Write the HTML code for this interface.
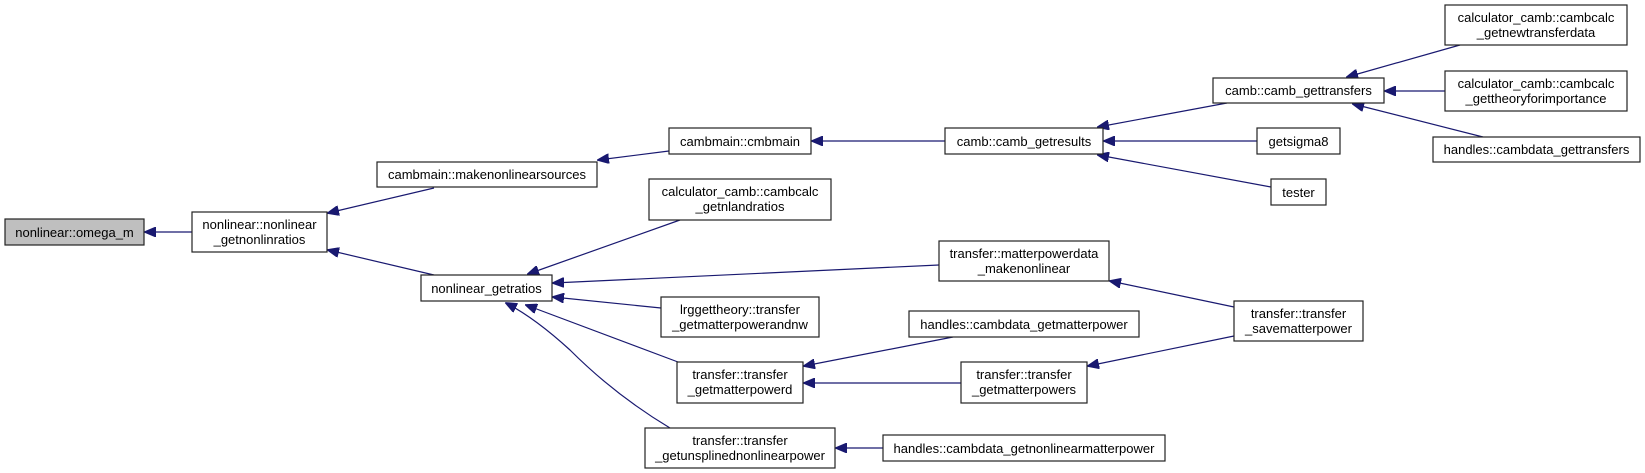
<!DOCTYPE html>
<html><head><meta charset="utf-8"><style>
html,body{margin:0;padding:0;background:#fff;}
svg{display:block;}
text{font-family:"Liberation Sans",Arial,sans-serif;font-size:13px;fill:#000;text-anchor:middle;}
rect{fill:#fff;stroke:#222;stroke-width:1.2;}
.e{stroke:#191970;stroke-width:1.2;fill:none;marker-end:url(#a);}
</style></head><body>
<svg width="1645" height="473" viewBox="0 0 1645 473" xmlns="http://www.w3.org/2000/svg">
<defs><marker id="a" markerUnits="userSpaceOnUse" markerWidth="12" markerHeight="10" refX="11" refY="5" orient="auto"><path d="M0,0 L12,5 L0,10 Z" fill="#191970" stroke="#191970"/></marker></defs>

<path class="e" d="M192,232 L145,232"/>
<path class="e" d="M434,188 L328,213"/>
<path class="e" d="M434,275 L328,250"/>
<path class="e" d="M669,151 L598,160"/>
<path class="e" d="M945,141 L812,141"/>
<path class="e" d="M1227,103 L1098,127"/>
<path class="e" d="M1257,141 L1104,141"/>
<path class="e" d="M1271,187 L1098,155"/>
<path class="e" d="M1460,45 L1347,77"/>
<path class="e" d="M1445,91 L1385,91"/>
<path class="e" d="M1483,137 L1353,104"/>
<path class="e" d="M680,220 L528,274"/>
<path class="e" d="M939,265 L553,283"/>
<path class="e" d="M661,308 L553,297"/>
<path class="e" d="M678,362 L526,305"/>
<path class="e" d="M670,428 Q615,395 570,350 Q535,318 506,303"/>
<path class="e" d="M953,337 L804,366"/>
<path class="e" d="M961,383 L804,383"/>
<path class="e" d="M1234,307 L1110,281"/>
<path class="e" d="M1234,336 L1088,366"/>
<path class="e" d="M883,448 L836,448"/>

<rect x="5" y="219" width="139" height="26" style="fill:#bfbfbf"/><text x="74.5" y="237">nonlinear::omega_m</text>
<rect x="192" y="212" width="135" height="40"/><text x="259.5" y="229">nonlinear::nonlinear</text><text x="259.5" y="244">_getnonlinratios</text>
<rect x="377" y="162" width="220" height="25"/><text x="487" y="179">cambmain::makenonlinearsources</text>
<rect x="421" y="275" width="131" height="26"/><text x="486.5" y="293">nonlinear_getratios</text>
<rect x="669" y="128" width="142" height="26"/><text x="740" y="146">cambmain::cmbmain</text>
<rect x="945" y="128" width="158" height="26"/><text x="1024" y="146">camb::camb_getresults</text>
<rect x="1213" y="78" width="171" height="25"/><text x="1298.5" y="95">camb::camb_gettransfers</text>
<rect x="1445" y="5" width="182" height="40"/><text x="1536" y="22">calculator_camb::cambcalc</text><text x="1536" y="37">_getnewtransferdata</text>
<rect x="1445" y="71" width="182" height="40"/><text x="1536" y="88">calculator_camb::cambcalc</text><text x="1536" y="103">_gettheoryforimportance</text>
<rect x="1433" y="137" width="207" height="25"/><text x="1536.5" y="154">handles::cambdata_gettransfers</text>
<rect x="1257" y="128" width="83" height="26"/><text x="1298.5" y="146">getsigma8</text>
<rect x="1271" y="179" width="55" height="26"/><text x="1298.5" y="197">tester</text>
<rect x="649" y="179" width="182" height="41"/><text x="740" y="196">calculator_camb::cambcalc</text><text x="740" y="211">_getnlandratios</text>
<rect x="939" y="241" width="170" height="40"/><text x="1024" y="258">transfer::matterpowerdata</text><text x="1024" y="273">_makenonlinear</text>
<rect x="661" y="297" width="158" height="40"/><text x="740" y="314">lrggettheory::transfer</text><text x="740" y="329">_getmatterpowerandnw</text>
<rect x="909" y="311" width="230" height="26"/><text x="1024" y="329">handles::cambdata_getmatterpower</text>
<rect x="1234" y="301" width="129" height="40"/><text x="1298.5" y="318">transfer::transfer</text><text x="1298.5" y="333">_savematterpower</text>
<rect x="677" y="362" width="126" height="41"/><text x="740" y="379">transfer::transfer</text><text x="740" y="394">_getmatterpowerd</text>
<rect x="961" y="362" width="126" height="41"/><text x="1024" y="379">transfer::transfer</text><text x="1024" y="394">_getmatterpowers</text>
<rect x="645" y="428" width="190" height="40"/><text x="740" y="445">transfer::transfer</text><text x="740" y="460">_getunsplinednonlinearpower</text>
<rect x="883" y="435" width="282" height="26"/><text x="1024" y="453">handles::cambdata_getnonlinearmatterpower</text>
</svg>
</body></html>
